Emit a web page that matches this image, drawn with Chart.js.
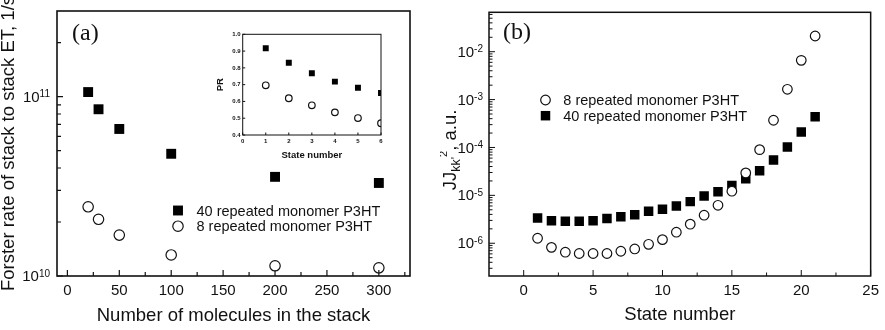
<!DOCTYPE html>
<html>
<head>
<meta charset="utf-8">
<title>Forster rate / JJ coupling</title>
<script src="https://cdn.jsdelivr.net/npm/chart.js@4.4.1/dist/chart.umd.min.js"></script>
<style>
  body { margin: 0; background: #fff; }
  #wrap { position: relative; width: 885px; height: 330px; overflow: hidden; }
  #wrap canvas { position: absolute; top: 0; }
</style>
</head>
<body>
<div id="wrap">
  <canvas id="rateChart" width="440" height="330" style="left:0"></canvas>
  <canvas id="jjChart" width="445" height="330" style="left:440px"></canvas>
  <canvas id="prChart" width="190" height="146" style="left:200px;top:24px"></canvas>
</div>
<script>
// --- panel (a): Forster rate vs stack size ---
const stackSizes = [20, 30, 50, 100, 200, 300];
const rate40mer = [1.06e11, 8.5e10, 6.6e10, 4.8e10, 3.57e10, 3.3e10];
const rate8mer = [2.43e10, 2.07e10, 1.69e10, 1.31e10, 1.14e10, 1.11e10];

// --- inset: participation ratio ---
const prStates = [1, 2, 3, 4, 5, 6];
const pr40mer = [0.917, 0.831, 0.768, 0.718, 0.682, 0.65];
const pr8mer = [0.696, 0.619, 0.577, 0.535, 0.501, 0.47];

// --- panel (b): JJ coupling vs state number ---
const states = [1, 2, 3, 4, 5, 6, 7, 8, 9, 10, 11, 12, 13, 14, 15, 16, 17, 18, 19, 20, 21];
const jj8mer = [1.27e-6, 8.2e-7, 6.5e-7, 6.1e-7, 6.1e-7, 6.1e-7, 6.8e-7, 7.6e-7, 9.5e-7, 1.19e-6, 1.7e-6,
  2.5e-6, 3.85e-6, 6.2e-6, 1.22e-5, 2.94e-5, 9.0e-5, 3.7e-4, 1.64e-3, 6.6e-3, 2.13e-2];
const jj40mer = [3.37e-6, 2.96e-6, 2.88e-6, 2.88e-6, 2.96e-6, 3.27e-6, 3.59e-6, 3.95e-6, 4.65e-6, 5.1e-6, 6.0e-6,
  7.4e-6, 9.7e-6, 1.19e-5, 1.6e-5, 2.23e-5, 3.28e-5, 5.5e-5, 1.02e-4, 2.1e-4, 4.4e-4];

// tick labels
const rateDecades = [10, 11];
const jjDecades = [-6, -5, -4, -3, -2];
const rateXTicks = [0, 50, 100, 150, 200, 250, 300];
const jjXTicks = [0, 5, 10, 15, 20, 25];
const prXTicks = [0, 1, 2, 3, 4, 5, 6];
const prYTicks = [0.4, 0.5, 0.6, 0.7, 0.8, 0.9, 1.0];

const label40 = '40 repeated monomer P3HT';
const label8 = '8 repeated monomer P3HT';

Chart.defaults.font.family = "'Liberation Sans', Arial, sans-serif";
Chart.defaults.color = '#111';

const pts = (xs, ys) => xs.map((x, i) => ({ x: x, y: ys[i] }));

function minorLog(decades, lo, hi) {
  const out = [];
  for (let e = decades[0] - 1; e <= decades[decades.length - 1] + 1; e++) {
    for (let m = 2; m <= 9; m++) {
      const v = m * Math.pow(10, e);
      if (v > lo && v < hi) out.push(v);
    }
  }
  return out;
}

function drawMarker(ctx, ds, x, y) {
  ctx.save();
  ctx.fillStyle = ds.backgroundColor;
  ctx.strokeStyle = ds.borderColor;
  ctx.lineWidth = ds.borderWidth;
  if (ds.pointStyle === 'rect') {
    const s = ds.pointRadius * Math.SQRT1_2;
    ctx.fillRect(x - s, y - s, 2 * s, 2 * s);
  } else {
    ctx.beginPath();
    ctx.arc(x, y, ds.pointRadius, 0, Math.PI * 2);
    ctx.fill();
    ctx.stroke();
  }
  ctx.restore();
}

// frame, inward ticks, superscript labels, legend and panel letter
const axisDecor = {
  id: 'axisDecor',
  afterDraw(chart, args, o) {
    const { ctx, chartArea: a } = chart;
    const xs = chart.scales.x, ys = chart.scales.y;
    ctx.save();
    ctx.strokeStyle = '#111';
    ctx.lineWidth = o.lineWidth;
    ctx.strokeRect(a.left, a.top, a.right - a.left, a.bottom - a.top);

    ctx.lineWidth = o.tickWidth || 1;
    ctx.beginPath();
    const xTick = (v, len) => {
      const p = xs.getPixelForValue(v);
      if (p < a.left - 0.5 || p > a.right + 0.5) return;
      ctx.moveTo(p, a.bottom);
      ctx.lineTo(p, a.bottom - len);
    };
    const yTick = (v, len) => {
      const p = ys.getPixelForValue(v);
      if (p < a.top - 0.5 || p > a.bottom + 0.5) return;
      ctx.moveTo(a.left, p);
      ctx.lineTo(a.left + len, p);
    };
    (o.xMajor || []).forEach(v => xTick(v, o.majorLen));
    (o.xMinor || []).forEach(v => xTick(v, o.minorLen));
    (o.yMajor || []).forEach(v => yTick(v, o.majorLen));
    (o.yMinor || []).forEach(v => yTick(v, o.minorLen));
    ctx.stroke();

    // log tick labels: 10 with superscript exponent
    if (o.decades) {
      ctx.fillStyle = '#111';
      ctx.textAlign = 'right';
      o.decades.forEach(e => {
        const p = ys.getPixelForValue(Math.pow(10, e));
        const sup = String(e);
        ctx.font = "10px 'Liberation Sans', Arial, sans-serif";
        const sw = ctx.measureText(sup).width;
        const right = a.left - o.labelGap;
        ctx.textBaseline = 'alphabetic';
        ctx.fillText(sup, right, p + 0.5);
        ctx.font = "15px 'Liberation Sans', Arial, sans-serif";
        ctx.textBaseline = 'middle';
        ctx.fillText('10', right - sw, p + 1);
      });
    }

    if (o.letter) {
      ctx.fillStyle = '#111';
      ctx.font = "24px 'Liberation Serif', 'Times New Roman', serif";
      ctx.textAlign = 'left';
      ctx.textBaseline = 'middle';
      ctx.fillText(o.letter.text, o.letter.x, o.letter.y);
    }

    if (o.legend) {
      ctx.font = "14.5px 'Liberation Sans', Arial, sans-serif";
      ctx.textAlign = 'left';
      ctx.textBaseline = 'middle';
      o.legend.items.forEach((it, i) => {
        const ds = chart.data.datasets[it];
        const y = o.legend.y + i * o.legend.step;
        drawMarker(ctx, ds, o.legend.markerX, y);
        ctx.fillStyle = '#111';
        ctx.fillText(ds.label, o.legend.textX, y + 1);
      });
    }

    // y title with subscript / superscript
    if (o.richTitle) {
      const t = o.richTitle;
      const segs = t.parts.map(p => {
        ctx.font = p.size + "px 'Liberation Sans', Arial, sans-serif";
        return Object.assign({ w: ctx.measureText(p.text).width }, p);
      });
      const total = segs.reduce((s, p) => s + p.w, 0);
      ctx.translate(t.x, t.y + total / 2);
      ctx.rotate(-Math.PI / 2);
      ctx.fillStyle = '#111';
      ctx.textAlign = 'left';
      ctx.textBaseline = 'alphabetic';
      let cx = 0;
      segs.forEach(p => {
        ctx.font = p.size + "px 'Liberation Sans', Arial, sans-serif";
        ctx.fillText(p.text, cx, p.shift);
        cx += p.w;
      });
    }
    ctx.restore();
  }
};

const squareSet = (label, data, r) => ({
  label: label, data: data, pointStyle: 'rect', pointRadius: r, pointHoverRadius: r,
  backgroundColor: '#000', borderColor: '#000', borderWidth: 0, showLine: false
});
const circleSet = (label, data, r) => ({
  label: label, data: data, pointStyle: 'circle', pointRadius: r, pointHoverRadius: r,
  backgroundColor: '#fff', borderColor: '#111', borderWidth: 1.2, showLine: false
});

const noGrid = { display: false, drawTicks: false };

// panel (a)
new Chart(document.getElementById('rateChart'), {
  type: 'scatter',
  data: {
    datasets: [
      squareSet(label40, pts(stackSizes, rate40mer), 7),
      circleSet(label8, pts(stackSizes, rate8mer), 5.2)
    ]
  },
  options: {
    responsive: false,
    animation: false,
    layout: { padding: { top: 11, right: 30, left: 0, bottom: 0 } },
    plugins: {
      legend: { display: false },
      tooltip: { enabled: false },
      axisDecor: {
        lineWidth: 1.6, tickWidth: 1.2, majorLen: 6, minorLen: 4,
        xMajor: rateXTicks, xMinor: [25, 75, 125, 175, 225, 275, 325],
        yMajor: rateDecades.map(e => Math.pow(10, e)),
        yMinor: minorLog(rateDecades, 1e10, 3e11),
        decades: rateDecades, labelGap: 7,
        letter: { text: '(a)', x: 72, y: 34 },
        legend: { items: [0, 1], y: 210.5, step: 15.7, markerX: 178, textX: 196.5 }
      }
    },
    scales: {
      x: {
        type: 'linear', min: -10, max: 330,
        afterFit: s => { s.height = 54; },
        grid: noGrid, border: { display: false },
        ticks: { stepSize: 50, includeBounds: false, padding: 6, font: { size: 15 } },
        title: { display: true, text: 'Number of molecules in the stack', font: { size: 18.5 }, padding: { top: 0, bottom: 2.5 } }
      },
      y: {
        type: 'logarithmic', min: 1e10, max: 3e11,
        afterFit: s => { s.width = 57; },
        grid: noGrid, border: { display: false },
        ticks: { display: false },
        title: { display: true, text: 'Forster rate of stack to stack ET, 1/s', font: { size: 18.5 }, padding: { top: -2.6, bottom: 0 } }
      }
    }
  },
  plugins: [axisDecor]
});

// inset
new Chart(document.getElementById('prChart'), {
  type: 'scatter',
  data: {
    datasets: [
      squareSet(label40, pts(prStates, pr40mer), 4.2),
      circleSet(label8, pts(prStates, pr8mer), 3.3)
    ]
  },
  options: {
    responsive: false,
    animation: false,
    layout: { padding: { top: 10.3, right: 9, left: 0, bottom: 0 } },
    plugins: {
      legend: { display: false },
      tooltip: { enabled: false },
      axisDecor: {
        lineWidth: 1, tickWidth: 1, majorLen: 2.5, minorLen: 1.5,
        xMajor: prXTicks, yMajor: prYTicks
      }
    },
    scales: {
      x: {
        type: 'linear', min: 0, max: 6,
        afterFit: s => { s.height = 35; },
        grid: noGrid, border: { display: false },
        ticks: { stepSize: 1, padding: 2.4, font: { size: 6, weight: 'bold' } },
        title: { display: true, text: 'State number', font: { size: 9.5, weight: 'bold' }, padding: { top: 0, bottom: 9.3 } }
      },
      y: {
        type: 'linear', min: 0.4, max: 1.0,
        afterFit: s => { s.width = 42.7; },
        grid: noGrid, border: { display: false },
        ticks: { stepSize: 0.1, padding: 2, font: { size: 6, weight: 'bold' }, callback: v => v.toFixed(1) },
        title: { display: true, text: 'PR', font: { size: 9.5, weight: 'bold' }, padding: { top: 14.8, bottom: 0 } }
      }
    }
  },
  plugins: [axisDecor]
});

// panel (b)
new Chart(document.getElementById('jjChart'), {
  type: 'scatter',
  data: {
    datasets: [
      circleSet(label8, pts(states, jj8mer), 4.8),
      squareSet(label40, pts(states, jj40mer), 6.7)
    ]
  },
  options: {
    responsive: false,
    animation: false,
    layout: { padding: { top: 12.3, right: 12.7, left: 0, bottom: 0 } },
    plugins: {
      legend: { display: false },
      tooltip: { enabled: false },
      axisDecor: {
        lineWidth: 1.5, tickWidth: 1, majorLen: 6, minorLen: 3.5,
        xMajor: jjXTicks, xMinor: [2.5, 7.5, 12.5, 17.5, 22.5],
        yMajor: jjDecades.map(e => Math.pow(10, e)),
        yMinor: minorLog(jjDecades, 2.07e-7, 0.0665),
        decades: jjDecades, labelGap: 6,
        letter: { text: '(b)', x: 63, y: 33 },
        legend: { items: [0, 1], y: 100, step: 15.7, markerX: 105.5, textX: 123.3 },
        richTitle: {
          x: 15.5, y: 150,
          parts: [
            { text: 'JJ', size: 18.5, shift: 0 },
            { text: "kk'", size: 12.5, shift: 4 },
            { text: '2', size: 11, shift: -9 },
            { text: ', a.u.', size: 18.5, shift: 0 }
          ]
        }
      }
    },
    scales: {
      x: {
        type: 'linear', min: -2.5, max: 25,
        afterFit: s => { s.height = 54; },
        grid: noGrid, border: { display: false },
        ticks: { stepSize: 5, includeBounds: false, padding: 6, font: { size: 15 } },
        title: { display: true, text: 'State number', font: { size: 18.5 }, padding: { top: 0, bottom: 3.5 } }
      },
      y: {
        type: 'logarithmic', min: 2.07e-7, max: 0.0665,
        afterFit: s => { s.width = 49; },
        grid: noGrid, border: { display: false },
        ticks: { display: false },
        title: { display: false }
      }
    }
  },
  plugins: [axisDecor]
});
</script>
</body>
</html>
